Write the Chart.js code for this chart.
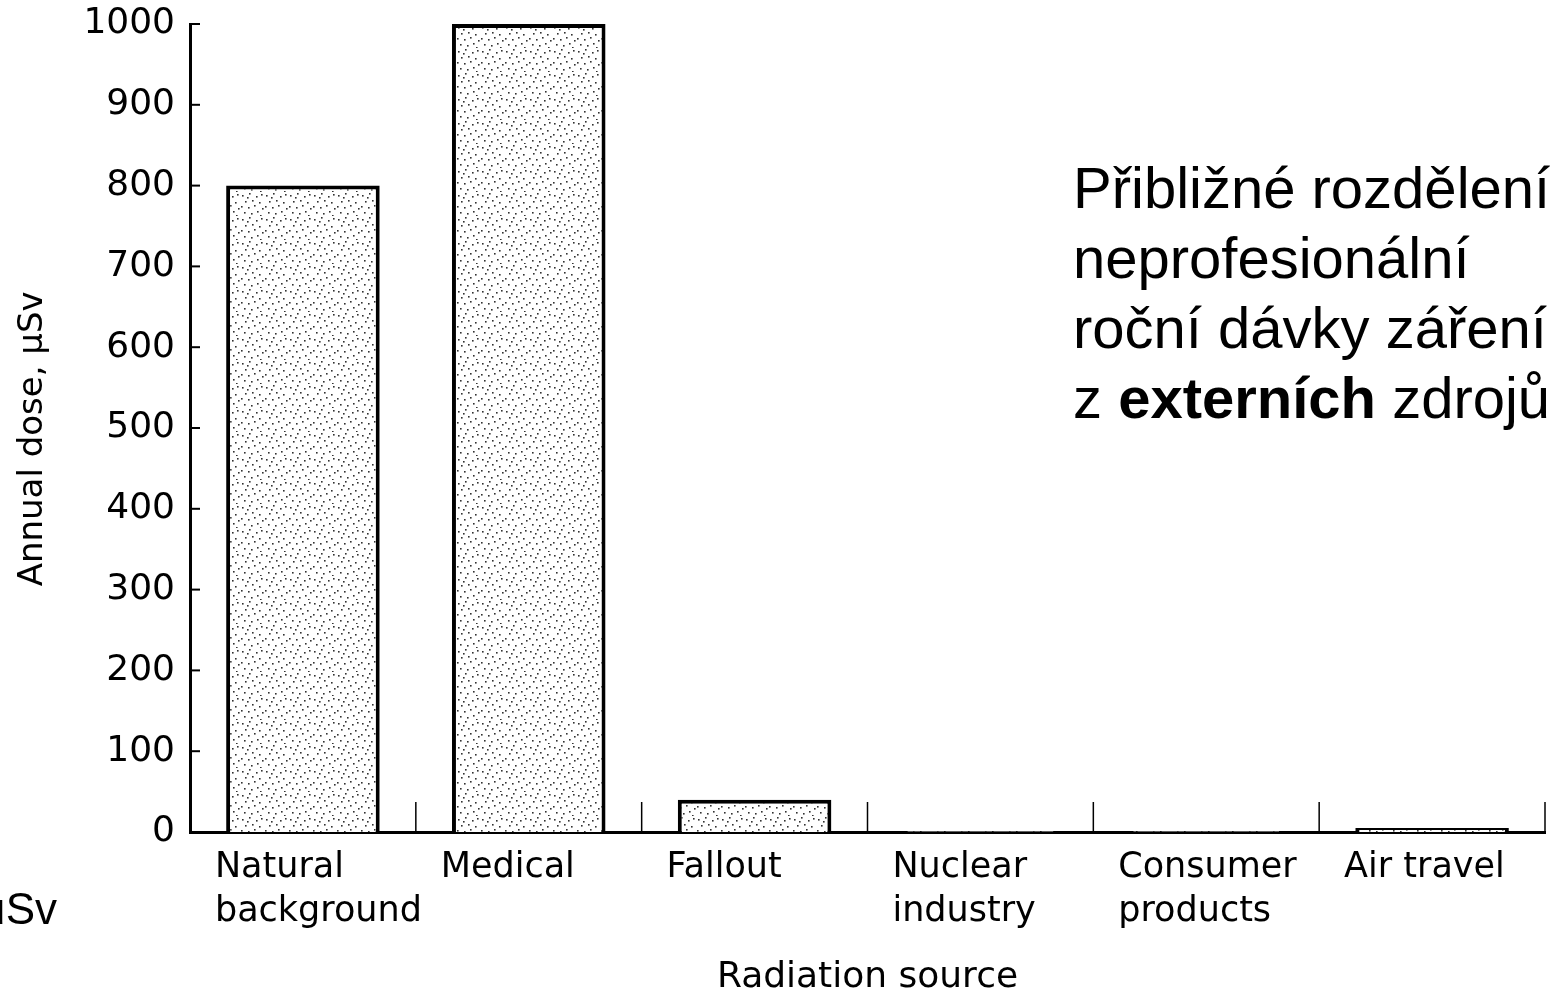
<!DOCTYPE html>
<html>
<head>
<meta charset="utf-8">
<script src="https://cdn.jsdelivr.net/npm/chart.js@4"></script>
<style>
  html, body { margin: 0; padding: 0; background: #fff; overflow: hidden; }
  #wrap { position: relative; width: 1552px; height: 1001px; }
  #doseChart { position: absolute; left: 0; top: 0; }
  .note { position: absolute; left: 1073px; top: 153px; font-family: "Liberation Sans", Arial, sans-serif;
          font-size: 58px; line-height: 70px; color: #000; white-space: nowrap; }
  .unit { position: absolute; right: 1495px; top: 884px; font-family: "Liberation Sans", Arial, sans-serif;
          font-size: 44px; line-height: 50px; color: #000; white-space: nowrap; }
</style>
</head>
<body>
<div id="wrap">
  <canvas id="doseChart" width="1552" height="1001"></canvas>
  <div class="note">Přibližné rozdělení<br>neprofesionální<br>roční dávky záření<br>z <b>externích</b> zdrojů</div>
  <div class="unit">μSv</div>
</div>
<script>
// Annual dose by radiation source (scanned figure)
const sources = [['Natural', 'background'], 'Medical', 'Fallout', ['Nuclear', 'industry'], ['Consumer', 'products'], 'Air travel'];
const annualDose = [800, 1000, 40, 1, 1, 5];
const doseTicks = [0, 100, 200, 300, 400, 500, 600, 700, 800, 900, 1000];

// stipple fill like the printed bars
function stipple(){
  const c = document.createElement('canvas');
  c.width = 24; c.height = 24;
  const g = c.getContext('2d');
  g.fillStyle = '#fff';
  g.fillRect(0, 0, 24, 24);
  g.fillStyle = '#333';
  const dots = [[2,3],[9,1],[16,4],[21,2],[5,9],[12,8],[19,10],[1,14],[8,15],[14,13],[22,16],[4,20],[11,21],[17,19],[20,23],[7,5]];
  dots.forEach(d => g.fillRect(d[0], d[1], 1.6, 1.6));
  return document.getElementById('doseChart').getContext('2d').createPattern(c, 'repeat');
}

// short inward ticks on both axes, as in the print
const axisTicks = {
  id: 'axisTicks',
  afterDatasetsDraw(chart){
    const {ctx, chartArea, scales} = chart;
    const x = scales.x, y = scales.y;
    ctx.save();
    ctx.strokeStyle = '#000';
    ctx.lineWidth = 2;
    doseTicks.forEach(v => {
      const py = y.getPixelForValue(v);
      ctx.beginPath();
      ctx.moveTo(chartArea.left, py);
      ctx.lineTo(chartArea.left + 10, py);
      ctx.stroke();
    });
    ctx.lineWidth = 1.5;
    const half = (x.getPixelForValue(1) - x.getPixelForValue(0)) / 2;
    for (let i = 0; i < sources.length; i++){
      const px = x.getPixelForValue(i) + half;
      ctx.beginPath();
      ctx.moveTo(px, chartArea.bottom);
      ctx.lineTo(px, chartArea.bottom - 30);
      ctx.stroke();
    }
    ctx.restore();
  }
};

new Chart(document.getElementById('doseChart'), {
  type: 'bar',
  data: {
    labels: sources,
    datasets: [{
      data: annualDose,
      backgroundColor: stipple(),
      borderColor: '#000',
      borderWidth: 4,
      categoryPercentage: 1,
      barPercentage: 0.68
    }]
  },
  options: {
    responsive: false,
    animation: false,
    layout: { padding: { top: 24, right: 7, left: 0, bottom: 0 } },
    plugins: { legend: { display: false }, tooltip: { enabled: false } },
    scales: {
      x: {
        grid: { display: false, drawTicks: false },
        border: { color: '#000', width: 3 },
        ticks: {
          color: '#000', align: 'start', labelOffset: -88, padding: 14, maxRotation: 0, autoSkip: false,
          font: { family: 'DejaVu Sans', size: 35, lineHeight: 1.26 }
        },
        title: {
          display: true, text: 'Radiation source', color: '#000',
          font: { family: 'DejaVu Sans', size: 36, lineHeight: 1 },
          padding: { top: 0, bottom: 5 }
        },
        afterFit(scale){ scale.height = 169; scale.paddingLeft = 0; scale.paddingRight = 0; }
      },
      y: {
        min: 0, max: 1000,
        afterBuildTicks(scale){ scale.ticks = doseTicks.map(v => ({ value: v })); },
        grid: { display: false, drawTicks: false },
        border: { color: '#000', width: 3 },
        ticks: { color: '#000', padding: 15, font: { family: 'DejaVu Sans', size: 36 }, callback: v => String(v) },
        title: {
          display: true, text: 'Annual dose, μSv  ', color: '#000',
          font: { family: 'DejaVu Sans', size: 34, lineHeight: 1 },
          padding: { top: 16, bottom: 0 }
        },
        afterFit(scale){ scale.width = 190; scale.paddingTop = 0; scale.paddingBottom = 0; }
      }
    }
  },
  plugins: [axisTicks]
});
</script>
</body>
</html>
